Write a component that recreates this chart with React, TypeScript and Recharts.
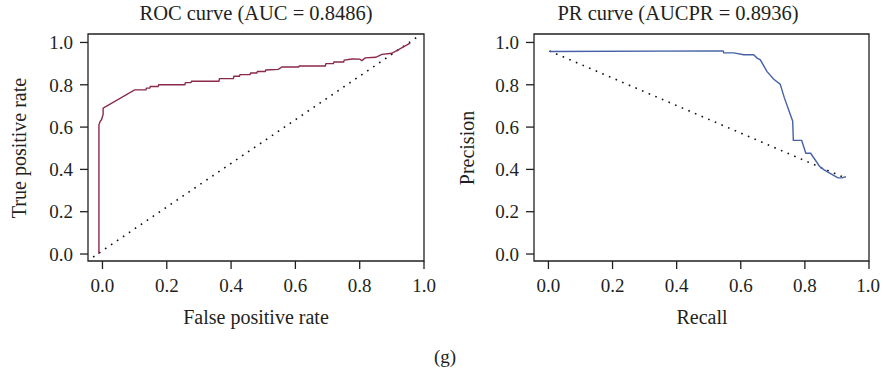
import { Line, LineChart, ReferenceArea, XAxis, YAxis } from "recharts";

// ROC curve
const rocFpr = [
    -0.011, -0.011, -0.007, -0.003, 0.0, 0.002, 0.002, 0.1, 0.135, 0.137, 0.147,
    0.149, 0.173, 0.175, 0.256, 0.258, 0.275, 0.277, 0.362, 0.364, 0.407, 0.409,
    0.426, 0.428, 0.459, 0.461, 0.48, 0.482, 0.506, 0.508, 0.547, 0.558, 0.61,
    0.612, 0.693, 0.695, 0.718, 0.72, 0.75, 0.752, 0.776, 0.8, 0.807, 0.817,
    0.85, 0.869, 0.9, 0.957,
];
const rocTpr = [
    0.0, 0.611, 0.627, 0.635, 0.65, 0.66, 0.69, 0.776, 0.776, 0.784, 0.784,
    0.792, 0.792, 0.8, 0.8, 0.81, 0.81, 0.817, 0.817, 0.829, 0.829, 0.84, 0.84,
    0.848, 0.848, 0.856, 0.856, 0.863, 0.863, 0.87, 0.873, 0.884, 0.884, 0.889,
    0.889, 0.9, 0.9, 0.908, 0.908, 0.917, 0.922, 0.921, 0.914, 0.927, 0.93,
    0.944, 0.949, 0.997,
];
const rocRefX = [-0.029, 0.99];
const rocRefY = [-0.014, 1.037];

// PR curve
const prRecall = [
    0.005, 0.545, 0.547, 0.578, 0.609, 0.64, 0.651, 0.661, 0.682, 0.703, 0.723,
    0.736, 0.762, 0.764, 0.79, 0.803, 0.818, 0.846, 0.86, 0.88, 0.903, 0.915,
    0.928,
];
const prPrecision = [
    0.957, 0.96, 0.951, 0.951, 0.942, 0.942, 0.926, 0.918, 0.862, 0.826, 0.803,
    0.738, 0.628, 0.537, 0.537, 0.476, 0.476, 0.414, 0.398, 0.38, 0.36, 0.36,
    0.365,
];
const prRefX = [0.003, 0.925];
const prRefY = [0.96, 0.36];

const ticks = [0, 0.2, 0.4, 0.6, 0.8, 1.0];
const xDomain = [-0.045, 1.0];
const yDomain = [-0.033, 1.04];

const FONT = "'Liberation Serif', 'Times New Roman', serif";
const INK = "#231f20";

const zip = (xs: number[], ys: number[]) => xs.map((x, i) => ({ x, y: ys[i] }));

interface PanelProps {
    curve: { x: number; y: number }[];
    diag: { x: number; y: number }[];
    color: string;
    left: number;
    marginLeft: number;
    marginRight: number;
}

function Panel({ curve, diag, color, left, marginLeft, marginRight }: PanelProps) {
    const tick = { fill: INK, fontSize: 19, fontFamily: FONT };
    return (
        <div style={{ position: "absolute", left, top: 0 }}>
            <LineChart
                width={440}
                height={300}
                margin={{ top: 34, right: marginRight, bottom: 9, left: marginLeft }}
            >
                <XAxis
                    type="number"
                    dataKey="x"
                    domain={xDomain}
                    ticks={ticks}
                    allowDataOverflow
                    axisLine={false}
                    tickLine={{ stroke: INK, strokeWidth: 1.3 }}
                    tickSize={8}
                    tickMargin={10}
                    height={30}
                    tick={tick}
                    tickFormatter={(v: number) => v.toFixed(1)}
                />
                <YAxis
                    type="number"
                    dataKey="y"
                    domain={yDomain}
                    ticks={ticks}
                    allowDataOverflow
                    axisLine={false}
                    tickLine={{ stroke: INK, strokeWidth: 1.3 }}
                    tickSize={8}
                    tickMargin={7}
                    width={60}
                    tick={tick}
                    tickFormatter={(v: number) => v.toFixed(1)}
                />
                <ReferenceArea
                    x1={xDomain[0]}
                    x2={xDomain[1]}
                    y1={yDomain[0]}
                    y2={yDomain[1]}
                    fill="none"
                    stroke={INK}
                    strokeWidth={1.3}
                    ifOverflow="visible"
                />
                <Line
                    data={diag}
                    dataKey="y"
                    type="linear"
                    stroke="#111"
                    strokeWidth={1.6}
                    strokeDasharray="1.6 5.6"
                    dot={false}
                    isAnimationActive={false}
                />
                <Line
                    data={curve}
                    dataKey="y"
                    type="linear"
                    stroke={color}
                    strokeWidth={1.4}
                    dot={false}
                    isAnimationActive={false}
                />
            </LineChart>
        </div>
    );
}

export default function App() {
    const text = { fill: INK, fontFamily: FONT };
    return (
        <div
            style={{
                position: "absolute",
                left: 0,
                top: 0,
                width: 883,
                height: 377,
                background: "#fff",
            }}
        >
            <Panel
                curve={zip(rocFpr, rocTpr)}
                diag={zip(rocRefX, rocRefY)}
                color="#8b2a48"
                left={0}
                marginLeft={28}
                marginRight={16}
            />
            <Panel
                curve={zip(prRecall, prPrecision)}
                diag={zip(prRefX, prRefY)}
                color="#4661a8"
                left={440}
                marginLeft={34}
                marginRight={11}
            />
            <svg
                width={883}
                height={377}
                style={{ position: "absolute", left: 0, top: 0, pointerEvents: "none" }}
            >
                <text x={256} y={20} textAnchor="middle" fontSize={20.5} {...text}>
                    ROC curve (AUC = 0.8486)
                </text>
                <text x={678} y={20} textAnchor="middle" fontSize={20.5} {...text}>
                    PR curve (AUCPR = 0.8936)
                </text>
                <text x={256} y={324} textAnchor="middle" fontSize={20} {...text}>
                    False positive rate
                </text>
                <text x={702} y={324} textAnchor="middle" fontSize={20} {...text}>
                    Recall
                </text>
                <text
                    x={26}
                    y={148}
                    textAnchor="middle"
                    fontSize={20}
                    transform="rotate(-90 26 148)"
                    {...text}
                >
                    True positive rate
                </text>
                <text
                    x={474}
                    y={148}
                    textAnchor="middle"
                    fontSize={20}
                    transform="rotate(-90 474 148)"
                    {...text}
                >
                    Precision
                </text>
                <text x={445} y={363} textAnchor="middle" fontSize={19} {...text}>
                    (g)
                </text>
            </svg>
        </div>
    );
}
